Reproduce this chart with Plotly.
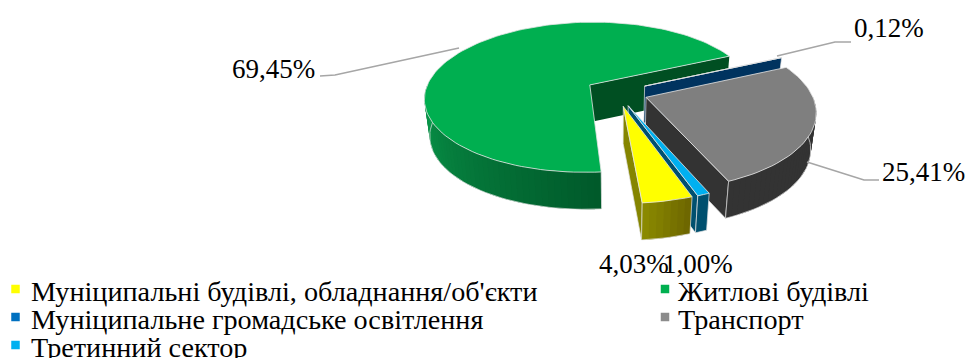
import math
import plotly.graph_objects as go

# Shares of final energy use by sector, in legend order
categories = [
    "Муніципальні будівлі, обладнання/об'єкти",
    "Житлові будівлі",
    "Муніципальне громадське освітлення",
    "Транспорт",
    "Третинний сектор",
]
shares = [4.03, 69.45, 0.12, 25.41, 1.00]

top_colors = ["#FFFF00", "#00AF50", "#0070C0", "#7F7F7F", "#00B0F0"]
legend_colors = ["#FFFF00", "#00B050", "#0070C0", "#8C8C8C", "#00B0F0"]
edge_colors = ["#858500", "#004F22", "#00335F", "#333333", "#00506F"]
rim_left = ["#8C8C00", "#0A9A4C", "#00335F", "#333333", "#00506F"]
rim_right = ["#6C6400", "#00592A", "#00335F", "#333333", "#00506F"]

# Projection of the tilted, exploded disc
CX, CY = 616.5, 92.0
RX, RY = 165.0, 75.4
DIST = 6.02
THICK = 37.0
TAPER = 0.028
EXPLODE = 0.19
START = 160.6


def project(u, v, z=0.0):
    s = DIST / (DIST - v)
    return CX + s * RX * u * (1 - TAPER * z), CY + s * RY * v + THICK * z


def on_rim(deg, ou, ov):
    a = math.radians(deg)
    return ou + math.sin(a), ov - math.cos(a)


def mix(c1, c2, t):
    a = [int(c1[i:i + 2], 16) for i in (1, 3, 5)]
    b = [int(c2[i:i + 2], 16) for i in (1, 3, 5)]
    return "#%02X%02X%02X" % tuple(round(p + (q - p) * t) for p, q in zip(a, b))


fig = go.Figure()


def poly(points, fill, line=None, width=0.6):
    xs, ys = zip(*points)
    fig.add_trace(go.Scatter(
        x=list(xs) + [xs[0]], y=list(ys) + [ys[0]], mode="lines", fill="toself",
        fillcolor=fill, line=dict(color=line or fill, width=width if line else 0),
        hoverinfo="skip", showlegend=False))


def polyline(points, color, width):
    xs, ys = zip(*points)
    fig.add_trace(go.Scatter(x=list(xs), y=list(ys), mode="lines",
                             line=dict(color=color, width=width),
                             hoverinfo="skip", showlegend=False))


# Angular span of every slice, clockwise from the back of the disc
total = sum(shares)
spans = []
angle = START
for value in shares:
    sweep = value / total * 360
    base = angle % 360
    spans.append((base, base + sweep))
    angle += sweep

RIM_LINE = "#E4E4E4"

# Painted from the back of the disc to the front
for i in (1, 2, 3, 4, 0):
    a0, a1 = spans[i]
    mid = math.radians((a0 + a1) / 2)
    ou, ov = EXPLODE * math.sin(mid), -EXPLODE * math.cos(mid)

    # Cut face on the clockwise side of the wedge
    if math.sin(math.radians(a1)) > 0:
        ru, rv = on_rim(a1, ou, ov)
        face = [project(ou, ov), project(ru, rv), project(ru, rv, 1), project(ou, ov, 1)]
        poly(face, edge_colors[i], RIM_LINE if i != 1 else None, 0.7)

    # Outer wall, shaded left to right; strips overlap so no seams show
    lo, hi = max(a0, 90.0), min(a1, 270.0)
    if hi > lo:
        steps = max(1, int((hi - lo) / 2))
        for k in range(steps):
            d0 = lo + (hi - lo) * k / steps
            d1 = min(hi, lo + (hi - lo) * (k + 2) / steps)
            u0, v0 = on_rim(d0, ou, ov)
            u1, v1 = on_rim(d1, ou, ov)
            t = (k + 0.5) / steps
            poly([project(u0, v0), project(u1, v1), project(u1, v1, 1), project(u0, v0, 1)],
                 mix(rim_right[i], rim_left[i], t))
        low = [project(*on_rim(lo + (hi - lo) * k / steps, ou, ov), 1) for k in range(steps + 1)]
        polyline(low, RIM_LINE, 0.7)
        for d in (lo, hi):
            u, v = on_rim(d, ou, ov)
            polyline([project(u, v), project(u, v, 1)], RIM_LINE, 0.7)

    # Top face
    n = max(2, int((a1 - a0) / 2))
    top = [project(ou, ov)]
    top += [project(*on_rim(a0 + (a1 - a0) * k / n, ou, ov)) for k in range(n + 1)]
    poly(top, top_colors[i], RIM_LINE, 0.8)

# Leader lines from the slices to their labels
leaders = [
    [(320, 76), (335, 75), (459, 48)],
    [(777, 56), (835, 42), (851, 42)],
    [(807, 162), (864, 180), (879, 180)],
]
for path in leaders:
    polyline(path, "#A6A6A6", 1.6)

# Value labels
FONT = "Liberation Serif"
label_pos = {0: (598, 264), 1: (231, 69), 2: (853, 28), 3: (881, 172), 4: (662, 264)}
annotations = []
for i, (x, y) in label_pos.items():
    annotations.append(dict(
        x=x, y=y, xref="x", yref="y", xanchor="left", yanchor="middle", showarrow=False,
        text=f"{shares[i]:.2f}%".replace(".", ","), borderpad=0,
        font=dict(family=FONT, size=27, color="#000000")))

# Legend set out in two columns, reading across
slots = [(15.5, 291), (665, 291), (15.5, 319), (665, 319), (15.5, 347)]
text_x = [30, 677, 30, 677, 30]
fig.add_trace(go.Scatter(
    x=[s[0] for s in slots], y=[s[1] - 2 for s in slots], mode="markers",
    marker=dict(symbol="square", size=8.5, color=legend_colors, line=dict(width=0)),
    hoverinfo="skip", showlegend=False))
for name, (x, y), tx in zip(categories, slots, text_x):
    annotations.append(dict(
        x=tx, y=y, xref="x", yref="y", xanchor="left", yanchor="middle", showarrow=False,
        text=name, borderpad=0, font=dict(family=FONT, size=28.2, color="#000000")))

fig.update_layout(
    width=967, height=358, margin=dict(l=0, r=0, t=0, b=0),
    paper_bgcolor="#FFFFFF", plot_bgcolor="#FFFFFF", showlegend=False,
    xaxis=dict(range=[0, 967], visible=False, fixedrange=True),
    yaxis=dict(range=[358, 0], visible=False, fixedrange=True),
    annotations=annotations,
)

fig.write_html("out.html", config={"displayModeBar": False})
